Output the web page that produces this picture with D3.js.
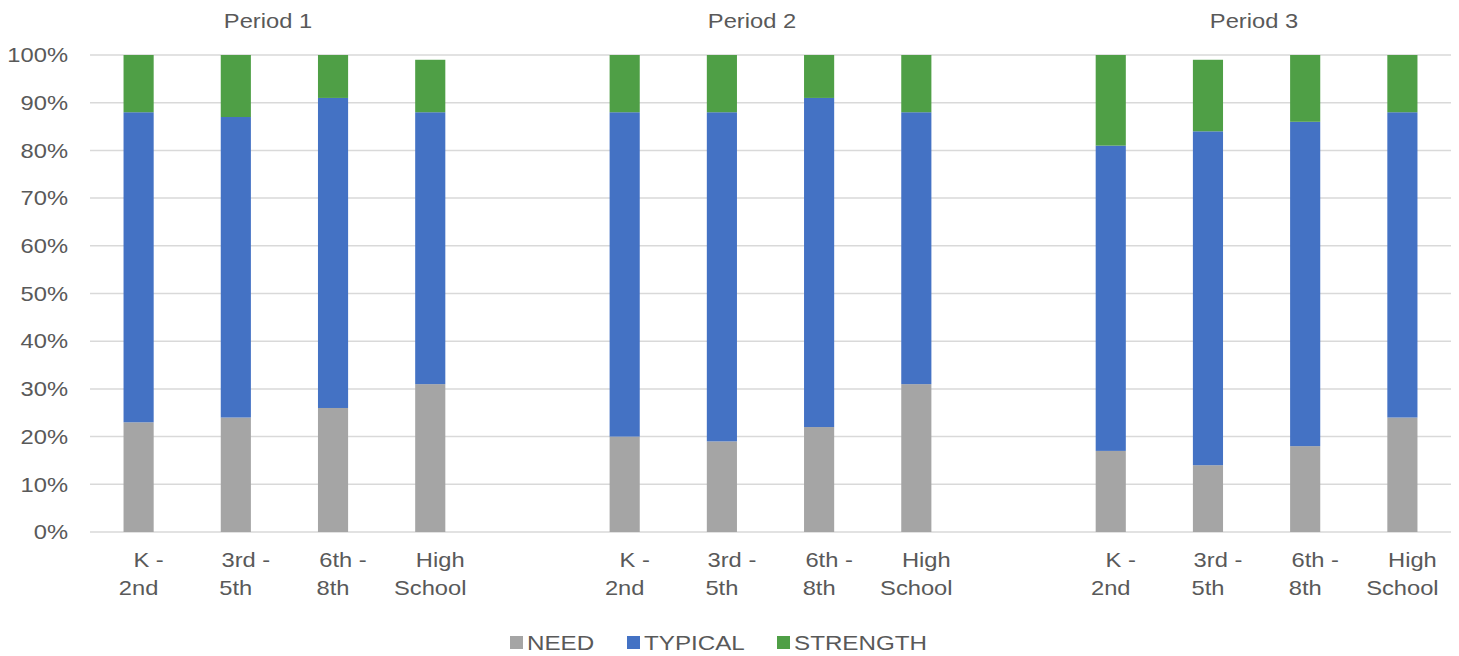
<!DOCTYPE html>
<html>
<head>
<meta charset="utf-8">
<script src="https://cdn.jsdelivr.net/npm/d3@7"></script>
<style>
  html, body { margin: 0; padding: 0; background: #fff; }
  svg { display: block; font-family: "Liberation Sans", Arial, sans-serif; }
</style>
</head>
<body>
<svg id="chart" width="1459" height="656"></svg>
<script>
// ---- data ----
const periods = ["Period 1", "Period 2", "Period 3"];
const categories = ["K - 2nd", "3rd - 5th", "6th - 8th", "High School"];
const categoryLine1 = ["K -", "3rd -", "6th -", "High"];
const categoryLine2 = ["2nd", "5th", "8th", "School"];
const seriesNames = ["NEED", "TYPICAL", "STRENGTH"];
// values per period x category (in order P1 cats, P2 cats, P3 cats)
const need     = [23, 24, 26, 31,  20, 19, 22, 31,  17, 14, 18, 24];
const typical  = [65, 63, 65, 57,  68, 69, 69, 57,  64, 70, 68, 64];
const strength = [12, 13,  9, 11,  12, 12,  9, 12,  19, 15, 14, 12];
const yTicks = [0, 10, 20, 30, 40, 50, 60, 70, 80, 90, 100];

// ---- layout ----
const plot = { left: 90, right: 1451, top: 55, bottom: 532 };
const colors = { NEED: "#A5A5A5", TYPICAL: "#4472C4", STRENGTH: "#4F9F46" };
const textColor = "#595959";
const titleX = [268, 752, 1254];
const SX = 1.13;      // horizontal stretch of text, as in reference rendering
const SX_LEG = 1.21;

const svg = d3.select("#chart");

// build rows
const rows = [];
periods.forEach((p, pi) => {
  categories.forEach((c, ci) => {
    const i = pi * categories.length + ci;
    rows.push({ key: p + "|" + c, period: p, cat: c, ci,
      NEED: need[i], TYPICAL: typical[i], STRENGTH: strength[i] });
  });
});

// slot domain: 4 categories per period, blank slot between periods
const slots = [];
periods.forEach((p, pi) => {
  categories.forEach(c => slots.push(p + "|" + c));
  if (pi < periods.length - 1) slots.push("gap" + pi);
});

const x = d3.scaleBand().domain(slots).range([plot.left, plot.right])
  .paddingInner(0.69).paddingOuter(0.345);
const y = d3.scaleLinear().domain([0, 100]).range([plot.bottom, plot.top]);

function stretchedText(g, tx, ty, txt, size, sx, anchor) {
  return g.append("text")
    .attr("transform", `translate(${tx},${ty}) scale(${sx},1)`)
    .attr("text-anchor", anchor || "middle")
    .attr("fill", textColor)
    .style("font-size", size + "px")
    .text(txt);
}

// gridlines
svg.append("g").selectAll("line").data(yTicks).join("line")
  .attr("x1", plot.left).attr("x2", plot.right)
  .attr("y1", d => y(d)).attr("y2", d => y(d))
  .attr("stroke", "#D9D9D9").attr("stroke-width", 1.5);

// y axis labels
const yAxis = d3.axisLeft(y).tickValues(yTicks).tickFormat(d => d + "%").tickSize(0).tickPadding(0);
const gy = svg.append("g").attr("transform", `translate(${plot.left - 22},0)`).call(yAxis);
gy.select(".domain").remove();
gy.selectAll("text").attr("fill", textColor).style("font-size", "21px")
  .style("font-family", '"Liberation Sans", Arial, sans-serif')
  .attr("x", null).attr("transform", `scale(${SX},1)`);

// stacked bars
const stacked = d3.stack().keys(seriesNames)(rows);
svg.append("g").selectAll("g").data(stacked).join("g")
  .attr("fill", d => colors[d.key])
  .selectAll("rect").data(d => d).join("rect")
  .attr("x", d => x(d.data.key))
  .attr("width", x.bandwidth())
  .attr("y", d => y(d[1]))
  .attr("height", d => y(d[0]) - y(d[1]));

// category labels
const catG = svg.append("g");
rows.forEach(r => {
  const cx = x(r.key) + x.bandwidth() / 2;
  stretchedText(catG, cx + 10, 567, categoryLine1[r.ci], 21, SX);
  stretchedText(catG, cx, 595, categoryLine2[r.ci], 21, SX);
});

// period titles
const tg = svg.append("g");
periods.forEach((p, i) => stretchedText(tg, titleX[i], 28, p, 21, SX));

// legend
const legendX = [510, 627, 777];
const lg = svg.append("g");
seriesNames.forEach((s, i) => {
  lg.append("rect").attr("x", legendX[i]).attr("y", 636).attr("width", 13).attr("height", 13)
    .attr("fill", colors[s]);
  stretchedText(lg, legendX[i] + 17, 650, s, 20, SX_LEG, "start");
});
</script>
</body>
</html>
